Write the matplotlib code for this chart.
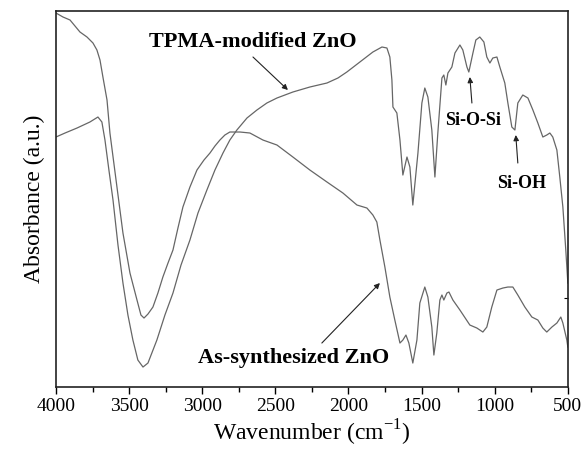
import matplotlib
matplotlib.use("Agg")
import matplotlib.pyplot as plt
from matplotlib.ticker import MultipleLocator, NullFormatter

plt.rcParams['font.family'] = ['Liberation Serif', 'DejaVu Serif']
plt.rcParams['mathtext.fontset'] = 'custom'
plt.rcParams['mathtext.rm'] = 'Liberation Serif'

# as-synthesized ZnO spectrum (wavenumber, absorbance a.u.)
wn_as = [4000, 3952, 3904, 3836, 3788, 3747, 3720, 3699, 3679, 3651, 3631, 3583, 3542,
         3494, 3446, 3419, 3398, 3371, 3337, 3303, 3269, 3234, 3200, 3166, 3132, 3084,
         3036, 2988, 2947, 2913, 2879, 2845, 2811, 2742, 2674, 2585, 2489, 2380, 2264,
         2147, 2038, 1942, 1874, 1833, 1806, 1785, 1751, 1717, 1683, 1648, 1628, 1607,
         1587, 1560, 1532, 1512, 1478, 1457, 1430, 1416, 1396, 1375, 1361, 1348, 1327,
         1313, 1286, 1238, 1170, 1122, 1081, 1054, 1020, 985, 944, 910, 876, 842, 794,
         746, 705, 671, 644, 609, 575, 548, 534, 507, 500]
abs_as = [374, 370, 367, 355, 350, 344, 337, 327, 310, 287, 254, 200, 154,
          114, 87, 72, 69, 73, 80, 94, 110, 124, 137, 159, 180, 200,
          217, 227, 234, 241, 247, 252, 255, 255, 254, 247, 242, 230, 217,
          205, 194, 182, 179, 172, 165, 147, 120, 90, 67, 44, 47, 52,
          44, 24, 47, 84, 100, 90, 60, 32, 54, 87, 92, 87, 94,
          95, 87, 77, 62, 59, 55, 60, 80, 97, 99, 100, 100, 92, 80,
          70, 67, 59, 55, 60, 64, 70, 64, 47, 40]

# TPMA-modified ZnO spectrum
wn_tpma = [4000, 3938, 3856, 3768, 3713, 3686, 3665, 3638, 3610, 3576, 3542, 3508, 3474,
           3440, 3405, 3371, 3310, 3255, 3200, 3145, 3084, 3029, 2968, 2913, 2858, 2811,
           2763, 2694, 2626, 2558, 2489, 2380, 2264, 2147, 2072, 2011, 1922, 1833, 1771,
           1737, 1717, 1703, 1696, 1669, 1648, 1628, 1600, 1580, 1560, 1525, 1498, 1478,
           1457, 1430, 1409, 1389, 1361, 1348, 1334, 1320, 1293, 1272, 1238, 1218, 1190,
           1177, 1149, 1129, 1102, 1074, 1054, 1033, 1013, 985, 965, 931, 910, 883, 862,
           842, 808, 773, 739, 705, 671, 644, 623, 603, 575, 555, 534, 514, 500]
abs_tpma = [250, 254, 259, 265, 270, 265, 247, 217, 187, 142, 104, 72, 47,
            27, 20, 24, 47, 72, 94, 122, 147, 174, 197, 217, 234, 247,
            257, 269, 277, 284, 289, 295, 300, 304, 309, 315, 325, 335, 340,
            339, 330, 307, 280, 274, 247, 212, 230, 220, 182, 234, 284, 299,
            290, 257, 210, 254, 309, 312, 302, 314, 320, 334, 342, 337, 320,
            315, 334, 347, 350, 345, 330, 324, 329, 330, 320, 304, 284, 260, 257,
            284, 292, 289, 277, 264, 250, 252, 254, 250, 237, 210, 180, 137, 104]

fig = plt.figure(figsize=(5.83, 4.49), dpi=100)
ax = fig.add_axes([0.096, 0.138, 0.878, 0.8375])

line_color = '#666666'
ax.plot(wn_as, abs_as, color=line_color, lw=0.9)
ax.plot(wn_tpma, abs_tpma, color=line_color, lw=0.9)

ax.set_xlim(4000, 500)
ax.set_ylim(0, 376)
ax.xaxis.set_major_locator(MultipleLocator(500))
ax.xaxis.set_minor_locator(MultipleLocator(250))
ax.tick_params(axis='x', which='major', direction='out', length=5, width=1.0,
               labelsize=14, pad=3)
ax.tick_params(axis='x', which='minor', direction='out', length=3.5, width=1.0)
ax.yaxis.set_ticks_position('right')
ax.set_yticks([89])
ax.yaxis.set_major_formatter(NullFormatter())
ax.tick_params(axis='y', direction='in', length=3, width=0.8)
for s in ax.spines.values():
    s.set_linewidth(1.2)
    s.set_color('#222222')

ax.set_xlabel('Wavenumber (cm$^{-1}$)', fontsize=17, labelpad=2)
ax.set_ylabel('Absorbance (a.u.)', fontsize=17, labelpad=8)

arrow = dict(arrowstyle='-|>', lw=0.8, color='#222222', mutation_scale=8,
             shrinkA=0, shrinkB=0)

ax.text(2653, 345, 'TPMA-modified ZnO', fontsize=16, fontweight='bold',
        ha='center', va='center')
ax.annotate('', xy=(2414, 297), xytext=(2653, 330), arrowprops=arrow)

ax.text(2373, 29, 'As-synthesized ZnO', fontsize=16, fontweight='bold',
        ha='center', va='center')
ax.annotate('', xy=(1785, 104), xytext=(2182, 44), arrowprops=arrow)

ax.text(1149, 267, 'Si-O-Si', fontsize=13, fontweight='bold',
        ha='center', va='center')
ax.annotate('', xy=(1170, 310), xytext=(1156, 284), arrowprops=arrow)

ax.text(815, 204, 'Si-OH', fontsize=13, fontweight='bold',
        ha='center', va='center')
ax.annotate('', xy=(856, 252), xytext=(842, 224), arrowprops=arrow)

plt.savefig('out.png', dpi=100)
